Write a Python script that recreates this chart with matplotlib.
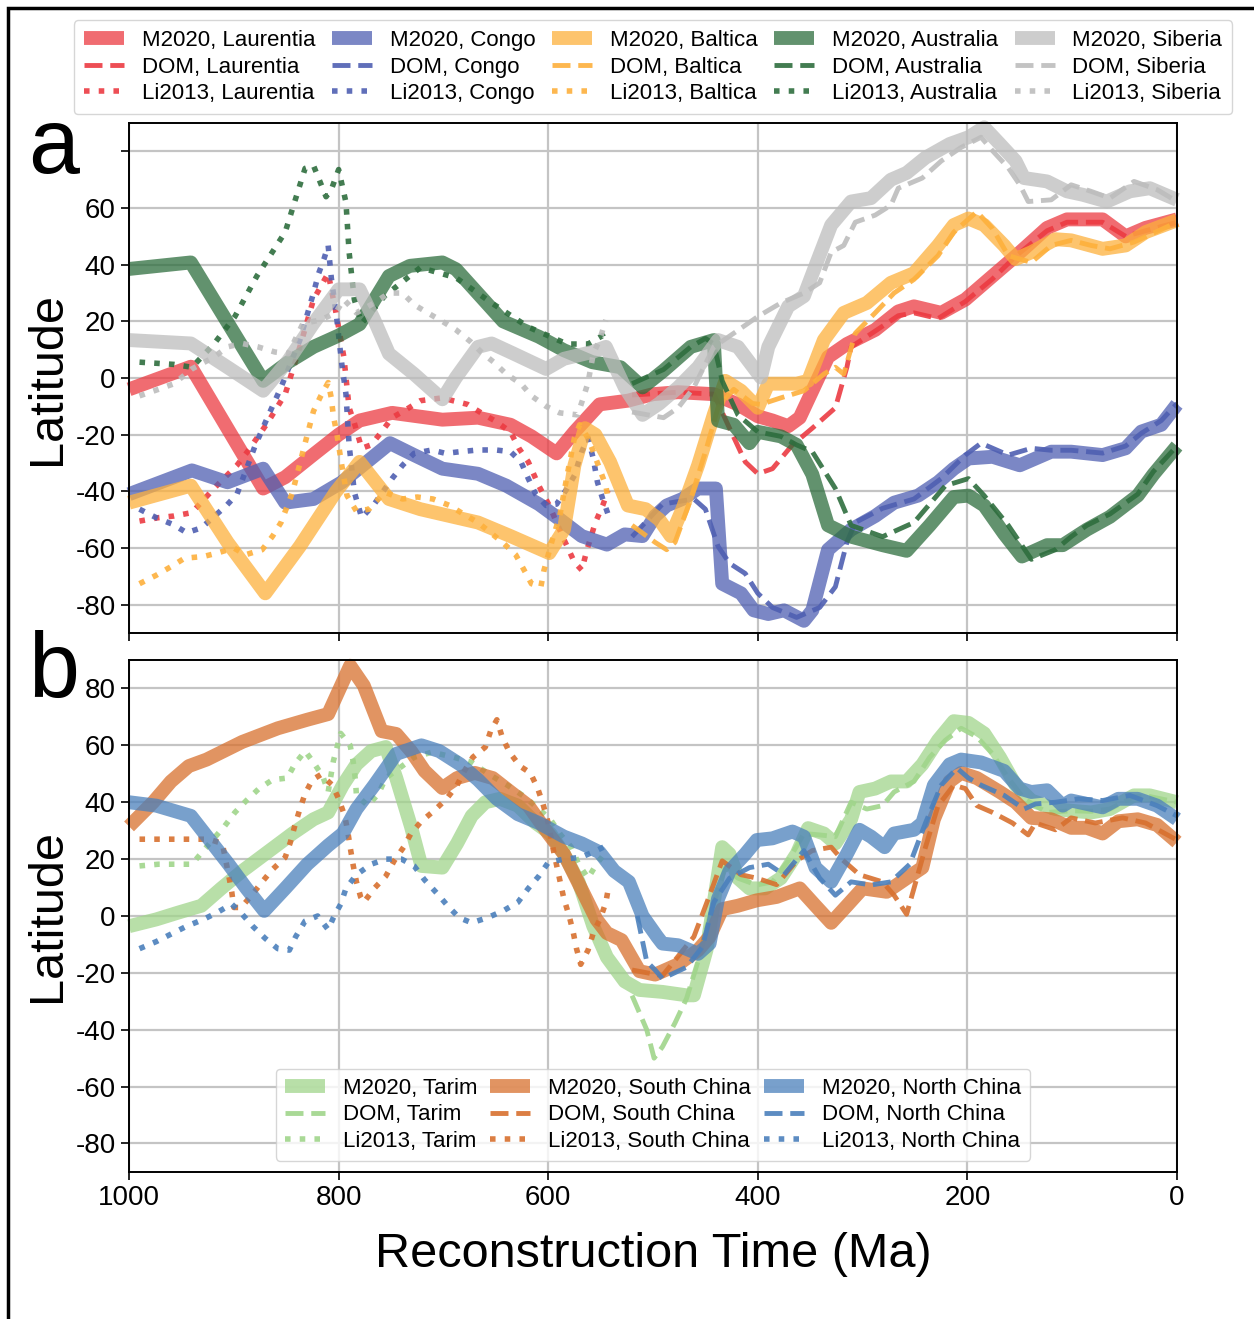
import matplotlib
matplotlib.use("Agg")
import matplotlib.pyplot as plt
from matplotlib.patches import Rectangle
import numpy as np

plt.rcParams["font.family"] = ["Liberation Sans", "DejaVu Sans"]
plt.rcParams["axes.unicode_minus"] = False

# ---------------- panel a data (time in Ma, latitude in deg) ----------------
lau_m_t = [1000, 941, 872, 851, 824, 800, 780, 749, 701, 667, 636, 616, 592, 575, 551, 524, 500, 476, 442, 419, 400, 386, 371, 360, 348, 333, 315, 288, 266, 251, 225, 202, 176, 154, 124, 105, 71, 49, 30, 0]
lau_m = [-4, 4, -39, -35, -27, -20, -15, -12.3, -14.7, -14, -16.5, -20.6, -26.6, -19, -9.3, -8, -5.7, -5, -5.7, -9.3, -13.5, -15, -17, -14, -4.5, 7.4, 12, 17, 23.5, 25.3, 23, 27.7, 36, 43, 53, 56, 56, 50, 53, 56]
lau_d_t = [520, 476, 442, 427, 412, 400, 386, 367, 348, 326, 315, 311, 296, 266, 251, 228, 202, 176, 154, 124, 105, 71, 49, 30, 0]
lau_d = [-6, -5, -5.7, -17.7, -29.6, -33.8, -32, -23.6, -17.7, -10.5, 3.8, 11, 14.6, 22, 23, 21, 27, 35, 43, 52, 55, 55, 50, 52, 55]
lau_l_t = [990, 972, 957, 940, 919, 897, 887, 868, 851, 837, 824, 810, 803, 795, 790, 785, 778, 769, 759, 749, 735, 722, 701, 691, 677, 664, 650, 636, 628, 619, 609, 599, 592, 585, 575, 568, 563, 555, 548, 543]
lau_l = [-50.5, -49.3, -48.7, -47.5, -39, -30.8, -26, -15.9, -5.7, 11, 27.7, 37, 24, 7.4, -10.5, -15.9, -24.8, -23.6, -19, -14, -11, -8, -7, -8, -9.3, -12.3, -15.3, -19, -24.8, -29.6, -38, -45, -51, -57, -65, -67.8, -60.6, -51, -45, -39.7]

con_m_t = [1000, 940, 906, 872, 851, 824, 797, 773, 751, 728, 701, 667, 640, 609, 589, 568, 544, 527, 510, 498, 487, 472, 457, 440, 434, 416, 404, 390, 375, 356, 348, 333, 311, 288, 270, 247, 228, 213, 199, 176, 150, 120, 101, 71, 49, 34, 15, 0]
con_m = [-41, -32.6, -36.8, -32, -44, -42.7, -36.8, -29.6, -23, -27.2, -32, -33.8, -38, -44.5, -49.9, -55.8, -58.8, -55.2, -55.8, -48.7, -45, -42.7, -39, -39, -72.6, -76, -82, -83.3, -82, -85.7, -82, -60.6, -53.5, -48.7, -44, -41.5, -36.8, -32, -28.4, -27.8, -30.8, -26, -26, -27.2, -24.8, -18.9, -16.5, -9.3]
con_d_t = [520, 491, 461, 450, 438, 427, 412, 400, 386, 363, 341, 326, 315, 307, 281, 251, 225, 202, 187, 161, 139, 120, 101, 71, 49, 34, 15, 0]
con_d = [-56, -44.5, -42.7, -46.3, -59.4, -65.4, -69, -76, -81, -84.5, -81, -73.7, -58, -51, -46, -42.7, -35.5, -27.2, -23, -27.2, -24.8, -25.5, -25.5, -26.5, -24, -19.5, -15, -9]
con_l_t = [990, 974, 958, 945, 931, 907, 897, 880, 868, 855, 837, 824, 819, 814, 810, 807, 802, 797, 793, 790, 785, 778, 766, 749, 739, 728, 711, 698, 684, 667, 650, 636, 626, 619, 612, 602, 592, 582, 575, 568, 562, 557, 553, 548, 543]
con_l = [-46.3, -49.3, -51.7, -54.6, -52.9, -45, -41, -24.2, -14, -3.3, 13.4, 30, 37, 42, 46.8, 35.4, 21.7, 5, -5.7, -23.6, -40.3, -49.3, -44.5, -35.5, -30.8, -26.6, -25.4, -26.6, -26, -25.4, -25.4, -26, -29.6, -35.5, -41, -45, -44.5, -39, -34.4, -26, -21.2, -28.4, -36.8, -42.7, -48]

bal_m_t = [1000, 941, 906, 870, 837, 803, 780, 752, 722, 694, 667, 636, 599, 585, 575, 565, 555, 541, 524, 507, 494, 483, 472, 457, 442, 431, 416, 400, 390, 363, 352, 337, 318, 296, 273, 251, 228, 213, 199, 184, 165, 154, 139, 116, 101, 71, 49, 30, 0]
bal_m = [-44, -38, -58, -76, -59.4, -40.3, -29.6, -42.7, -46.3, -48.7, -51, -55.8, -61.8, -53.5, -30.8, -17.7, -20, -29.6, -45, -46.3, -50, -55.8, -46.3, -30.8, -12.9, -1, -4.5, -10.5, -2, -2, -1, 13.4, 23, 26.5, 33.6, 37, 46.8, 54, 56.3, 54, 46.8, 42, 44.4, 49, 48.6, 45.6, 46.8, 51.5, 55.7]
bal_d_t = [520, 498, 487, 479, 464, 449, 438, 423, 405, 397, 378, 356, 337, 326, 318, 307, 288, 270, 251, 228, 213, 191, 176, 161, 139, 120, 101, 82, 64, 41, 0]
bal_d = [-52, -58, -60.6, -58, -42.7, -24.8, -10.5, -4, -9, -9.3, -7, -4.5, 1.4, 3.8, 1.4, 15.8, 23, 30, 34.8, 43.2, 51.5, 58.7, 52.7, 43.2, 40.8, 46.8, 48.6, 46.8, 45.6, 48, 55]
bal_l_t = [990, 974, 960, 947, 929, 916, 900, 889, 873, 863, 855, 844, 832, 824, 817, 810, 807, 805, 802, 797, 792, 783, 771, 756, 739, 725, 710, 694, 681, 667, 655, 643, 631, 623, 616, 607, 604, 596, 589, 582, 575, 570, 562, 557, 551, 545, 543]
bal_l = [-72.6, -69.6, -66.6, -63.6, -63, -61.8, -60, -62.4, -60.6, -55.8, -51, -40.3, -23, -11.7, -6.3, -1.6, -7, -13.5, -19, -30.8, -41.5, -47, -46.3, -40.3, -42.7, -42, -42.7, -45, -48, -51, -54.6, -58.2, -62.4, -67.8, -72.6, -73.7, -67.8, -57, -48.7, -34.4, -21.2, -16.5, -21.2, -26, -32, -38, -42.7]

aus_m_t = [1000, 941, 872, 848, 824, 800, 780, 752, 732, 701, 688, 643, 609, 585, 558, 531, 510, 490, 464, 442, 438, 423, 408, 400, 378, 363, 348, 333, 311, 281, 258, 236, 213, 199, 184, 165, 148, 124, 109, 86, 64, 37.5, 22.5, 0]
aus_m = [38.5, 40.8, -1, 5.6, 11, 15, 19, 36, 39.6, 40.8, 38.4, 20, 14.6, 9.8, 5.6, 3.8, -3.3, 2.6, 11, 13.4, -15, -16.5, -23, -19, -20.6, -23.6, -34, -52, -56, -59, -61, -52, -42, -41.5, -45, -55, -63, -59, -59, -53.5, -49, -41.5, -34, -24]
aus_d_t = [520, 490, 464, 450, 442, 434, 419, 400, 378, 363, 348, 326, 311, 281, 251, 221, 199, 184, 161, 139, 116, 101, 86, 64, 37.5, 22.5, 0]
aus_d = [-2, 3, 11, 14, 12, -1, -13, -19, -20.6, -23.6, -26, -39, -52, -56, -51, -38, -35.5, -41.5, -52, -64, -60.6, -56, -52, -48, -41, -33, -24]
aus_l_t = [990, 957, 940, 919, 899, 878, 851, 832, 824, 812, 807, 800, 793, 790, 785, 778, 756, 722, 688, 654, 619, 582, 562, 548, 545]
aus_l = [5.6, 4.8, 3.8, 12, 21.7, 36, 51.5, 74, 75, 64, 66.5, 73.6, 62, 44.4, 27.7, 19.3, 29, 39, 35.4, 26.5, 18, 12, 12, 15, 12]

sib_m_t = [1000, 941, 906, 872, 848, 824, 800, 780, 766, 752, 728, 701, 688, 667, 654, 633, 602, 585, 558, 545, 527, 510, 494, 476, 457, 438, 419, 397, 390, 371, 356, 345, 330, 311, 292, 273, 258, 240, 217, 199, 184, 169, 154, 146, 124, 105, 90, 67, 45, 26, 0]
sib_m = [13.4, 12.2, 3.8, -4.5, 6.2, 19.3, 31.3, 31.3, 20.5, 8.6, 1.4, -7.5, 0.2, 11, 12.2, 8.6, 3.2, 6.8, 9.2, 11, -3.3, -13, -9, -3.3, 3.8, 13.4, 11, 0.2, 11, 25.3, 28.9, 39.6, 54, 62.3, 63.5, 70, 72.4, 77.8, 82.6, 85, 88.5, 82.6, 76.6, 70.6, 69.4, 65.9, 64.7, 62.3, 65.9, 67, 62.9]
sib_d_t = [520, 490, 476, 461, 442, 423, 400, 378, 356, 341, 330, 318, 307, 288, 273, 266, 243, 225, 206, 187, 176, 161, 150, 142, 120, 101, 82, 64, 41, 19, 0]
sib_d = [-12, -14, -10.5, -3.3, 11, 15.8, 21.7, 26.5, 30, 33.6, 44.4, 46.8, 55, 57.5, 61, 67, 70.6, 76.6, 81.4, 85, 80.2, 74.2, 68.2, 62.3, 62.9, 68.2, 65.9, 63.5, 69.4, 66.5, 62.3]
sib_l_t = [990, 972, 957, 940, 919, 906, 892, 877, 861, 848, 834, 817, 803, 795, 783, 766, 752, 739, 728, 715, 701, 688, 674, 664, 652, 640, 626, 616, 602, 589, 572, 567, 562, 557, 551, 545]
sib_l = [-6.3, -4, -2, 3.2, 7.4, 11, 12.2, 11, 9.2, 8.6, 19.3, 20.5, 23, 27.7, 23, 26.5, 30, 30, 25.9, 23, 20, 17, 12.8, 9.2, 5.6, 1.4, -2, -6.3, -10, -12.3, -13, -7.5, -1.6, 8.6, 13.4, 20.5]

# ---------------- panel b data ----------------
tar_m_t = [1000, 974, 953, 931, 912, 892, 868, 844, 824, 810, 796, 783, 769, 755, 745, 731, 721, 701, 687, 673, 660, 646, 629, 612, 598, 585, 571, 557, 544, 527, 513, 491, 468, 461, 449, 442, 434, 427, 419, 408, 393, 378, 363, 352, 337, 326, 311, 303, 288, 273, 258, 243, 228, 213, 199, 184, 169, 154, 139, 116, 101, 82, 64, 41, 26, 0]
tar_m = [-3.6, -1.2, 1.2, 3.6, 9.7, 15.8, 22.4, 29, 34, 36.4, 46, 53.3, 58, 59.4, 48.5, 31.5, 17.6, 17, 25.5, 35.2, 40, 41.2, 38.8, 32.7, 29, 21.8, 12, -3.6, -14.5, -23, -26, -26.7, -27.9, -27.9, -12, 4.8, 24.2, 21.8, 13.3, 9.7, 9.7, 13.3, 21.8, 30.9, 29, 25.5, 34, 43.6, 44.8, 47.3, 47.3, 53.3, 61.8, 68.5, 67.9, 64.2, 55.8, 46, 40.6, 37.6, 37, 36.4, 37.6, 42.4, 42.4, 40]
tar_d_t = [520, 513, 506, 499, 491, 479, 468, 457, 446, 431, 419, 401, 386, 371, 356, 341, 326, 311, 296, 281, 270, 251, 236, 221, 206, 191, 176, 161, 146, 124, 101, 82, 64, 41, 26, 0]
tar_d = [-28, -34, -40, -50, -46, -37.6, -29, -15.8, 0, 17, 13.3, 10.9, 12, 19.4, 29, 28.5, 27.9, 40, 37.6, 38.8, 43.6, 47.3, 55.8, 61.8, 66, 63, 57, 48.5, 41.2, 36.4, 37, 36.8, 37.6, 42, 42, 40]
tar_l_t = [990, 972, 957, 940, 929, 919, 909, 899, 888, 876, 863, 849, 842, 832, 824, 815, 810, 805, 798, 789, 786, 784, 783, 772, 762, 755, 742, 728, 711, 690, 673, 656, 639, 622, 609, 598, 588, 578, 571, 562, 554, 544]
tar_l = [17.6, 18.2, 18.2, 18.2, 23, 27.3, 31.5, 36.4, 40.6, 44.8, 47.9, 48.5, 53.3, 58, 54, 49, 43.6, 54.5, 64.2, 60, 54, 47.9, 42.4, 38.8, 43, 48.5, 52, 55.8, 57.6, 55.8, 54, 49.7, 46, 41.8, 37.6, 34, 28.5, 24.2, 18.2, 13.3, 18.2, 23]

sc_m_t = [1000, 977, 960, 943, 926, 892, 858, 830, 810, 789, 776, 759, 745, 731, 718, 701, 687, 670, 653, 636, 619, 600, 585, 567, 554, 544, 530, 513, 498, 476, 457, 446, 434, 419, 401, 382, 360, 345, 330, 315, 300, 277, 258, 243, 232, 217, 206, 191, 169, 154, 139, 120, 101, 86, 71, 56, 37.5, 19, 0]
sc_m = [31.5, 40, 47.3, 52.7, 55, 61.2, 66, 69, 71, 88, 81, 65, 64, 58, 51, 45, 48.5, 50.3, 48.5, 43.6, 38.8, 29, 21.8, 8.5, -1.2, -6, -8.5, -19.4, -20.6, -17, -12, -7.3, 2.4, 3.6, 5.5, 6.7, 9.7, 3.6, -2.4, 3.6, 9.7, 8.5, 13.3, 17, 34, 47.3, 50.3, 48.5, 43.6, 40, 34.5, 34, 31, 31, 29, 33.3, 34, 32, 26]
sc_d_t = [520, 491, 461, 446, 434, 416, 401, 382, 363, 348, 330, 320, 303, 281, 270, 258, 251, 240, 228, 213, 202, 191, 176, 157, 142, 135, 116, 101, 78, 52, 30, 0]
sc_d = [-19, -21, -7.3, 7.3, 19.4, 14.5, 13.3, 11, 19.4, 23, 24.2, 20, 14.5, 12, 7.3, 0.6, 9.7, 24.2, 38.8, 46, 44.8, 38.8, 36.4, 32.7, 28.5, 32.7, 30.3, 34.5, 32.7, 34.5, 32.7, 26.7]
sc_l_t = [990, 957, 924, 911, 905, 902, 900, 893, 883, 873, 863, 851, 846, 842, 837, 832, 825, 817, 806, 800, 794, 791, 789, 786, 783, 779, 776, 766, 755, 747, 738, 731, 721, 709, 697, 687, 680, 672, 660, 655, 649, 644, 637, 627, 617, 610, 605, 600, 595, 588, 585, 580, 576, 573, 569, 562, 557, 550, 545, 542]
sc_l = [27, 27, 27, 25.5, 14.5, 8.5, 3, 3, 7.3, 12, 16.4, 20.6, 26, 31.5, 37.6, 43, 47.9, 49.7, 46, 41.2, 35, 29, 24.2, 17.6, 12, 6.7, 4.8, 9.7, 14, 19.4, 24.2, 29, 33.3, 37, 41.2, 46, 51, 55.8, 59.4, 65, 69, 63, 57.6, 52.7, 50.3, 44.8, 39.4, 32.7, 23, 11, 6, 0, -6, -11.5, -17, -12, -6, -0.6, 4.8, 11]

nc_m_t = [1000, 974, 941, 923, 905, 888, 871, 851, 830, 810, 796, 783, 766, 745, 721, 704, 684, 667, 649, 629, 609, 585, 568, 551, 537, 523, 510, 496, 491, 476, 457, 446, 438, 427, 412, 401, 386, 367, 356, 345, 330, 315, 303, 292, 279, 270, 251, 243, 232, 217, 206, 187, 165, 150, 139, 124, 109, 101, 71, 56, 37.5, 19, 0]
nc_m = [40, 38.8, 35.2, 26.7, 18.2, 9.7, 1.8, 9.7, 18.2, 24.8, 29, 37.6, 46, 57, 60, 58, 53.3, 47.9, 41.2, 35.8, 32.7, 27.9, 25.5, 22.4, 15.8, 12, 0, -7.3, -9.7, -10.3, -13.3, -9.7, 6, 15.8, 21.8, 26.7, 27.3, 29.7, 27.9, 17, 12, 21.8, 30.3, 27.9, 24.2, 29, 30.3, 32.7, 46, 53.3, 55, 54, 51, 44.8, 43.6, 44.2, 38.8, 40.6, 38.2, 41.2, 41.2, 38.8, 34]
nc_d_t = [515, 506, 498, 491, 468, 453, 442, 427, 408, 390, 375, 356, 341, 326, 311, 292, 273, 255, 240, 225, 210, 199, 187, 165, 146, 135, 116, 94, 71, 45, 19, 0]
nc_d = [0, -16, -19, -22, -18, -10.9, 4.8, 13.3, 17, 18.2, 14.5, 23, 13.3, 7.3, 12, 10.9, 12, 18.2, 32.7, 46, 52, 48.5, 46, 42.4, 37.6, 39.4, 40, 41.2, 40.6, 42.4, 38.8, 35.2]
nc_l_t = [990, 974, 958, 945, 929, 916, 902, 892, 882, 870, 858, 847, 841, 832, 820, 810, 805, 798, 793, 783, 769, 755, 740, 728, 718, 706, 696, 685, 673, 658, 643, 629, 619, 609, 600, 585, 569, 554, 540]
nc_l = [-11.5, -9, -6, -3.6, -1.2, 1.2, 4.2, 0.6, -3.6, -7.9, -11.5, -12, -7.3, -1.8, 0, -4.8, -0.6, 4.2, 9.7, 14.5, 18.2, 20, 20, 17.6, 12.7, 7.9, 3.6, -0.6, -2.4, -0.6, 1.8, 4.8, 9.7, 14, 18.8, 20, 20.6, 23, 25.5]

top_blocks = ["Laurentia", "Congo", "Baltica", "Australia", "Siberia"]
top_colors = ["#ec3b42", "#4f5fb2", "#fdb03c", "#2e6e3e", "#bdbdbd"]
top_series = [
    (lau_m_t, lau_m, lau_d_t, lau_d, lau_l_t, lau_l),
    (con_m_t, con_m, con_d_t, con_d, con_l_t, con_l),
    (bal_m_t, bal_m, bal_d_t, bal_d, bal_l_t, bal_l),
    (aus_m_t, aus_m, aus_d_t, aus_d, aus_l_t, aus_l),
    (sib_m_t, sib_m, sib_d_t, sib_d, sib_l_t, sib_l),
]
bot_blocks = ["Tarim", "South China", "North China"]
bot_colors = ["#a0d58b", "#d8702e", "#4b80bc"]
bot_series = [
    (tar_m_t, tar_m, tar_d_t, tar_d, tar_l_t, tar_l),
    (sc_m_t, sc_m, sc_d_t, sc_d, sc_l_t, sc_l),
    (nc_m_t, nc_m, nc_d_t, nc_d, nc_l_t, nc_l),
]

fig = plt.figure(figsize=(12.54, 13.19), dpi=100)
ax_a = fig.add_axes([0.1029, 0.5201, 0.8357, 0.3866])
ax_b = fig.add_axes([0.1029, 0.1115, 0.8357, 0.3881])


def draw(ax, blocks, colors, series):
    for name, c, s in zip(blocks, colors, series):
        mt, m, dt, d, lt, l = s
        ax.plot(mt, m, color=c, lw=10, alpha=0.75, clip_on=False,
                solid_capstyle="butt", label="M2020, " + name)
        ax.plot(dt, d, color=c, lw=3.5, ls="--", alpha=0.9, clip_on=False,
                label="DOM, " + name)
        ax.plot(lt, l, color=c, lw=4, ls=":", alpha=0.9, clip_on=False,
                label="Li2013, " + name)


draw(ax_a, top_blocks, top_colors, top_series)
draw(ax_b, bot_blocks, bot_colors, bot_series)

yt = np.arange(-80, 81, 20)
for ax in (ax_a, ax_b):
    ax.set_xlim(1000, 0)
    ax.set_ylim(-90, 90)
    ax.set_xticks([1000, 800, 600, 400, 200, 0])
    ax.set_yticks(yt)
    ax.grid(True, color="#c4c4c4", lw=1.6)
    ax.set_axisbelow(True)
    ax.tick_params(labelsize=20, length=6, width=1.2)
    for sp in ax.spines.values():
        sp.set_linewidth(1.4)
    ax.set_ylabel("Latitude", fontsize=35)

ax_a.set_yticklabels(["" if v == 80 else str(v) for v in yt])
ax_a.set_xticklabels([])
ax_b.set_xlabel("Reconstruction Time (Ma)", fontsize=35, labelpad=15)

ax_a.legend(loc="lower center", bbox_to_anchor=(0.5, 1.0), ncol=5,
            fontsize=16, handlelength=1.8, handletextpad=0.8,
            columnspacing=0.75, labelspacing=0.25, borderaxespad=0.4,
            borderpad=0.45)
ax_b.legend(loc="lower center", ncol=3, fontsize=16, handlelength=1.8,
            handletextpad=0.8, columnspacing=0.6, labelspacing=0.25,
            borderpad=0.4)

fig.text(28 / 1254, 1 - 173 / 1319, "a", fontsize=66, va="baseline")
fig.text(28 / 1254, 1 - 697 / 1319, "b", fontsize=66, va="baseline")

fig.add_artist(Rectangle((8 / 1254, -0.1), 1.2, 1.1 - 8 / 1319,
                         transform=fig.transFigure, fill=False,
                         edgecolor="black", lw=2.5))

fig.savefig("out.png", dpi=100)
